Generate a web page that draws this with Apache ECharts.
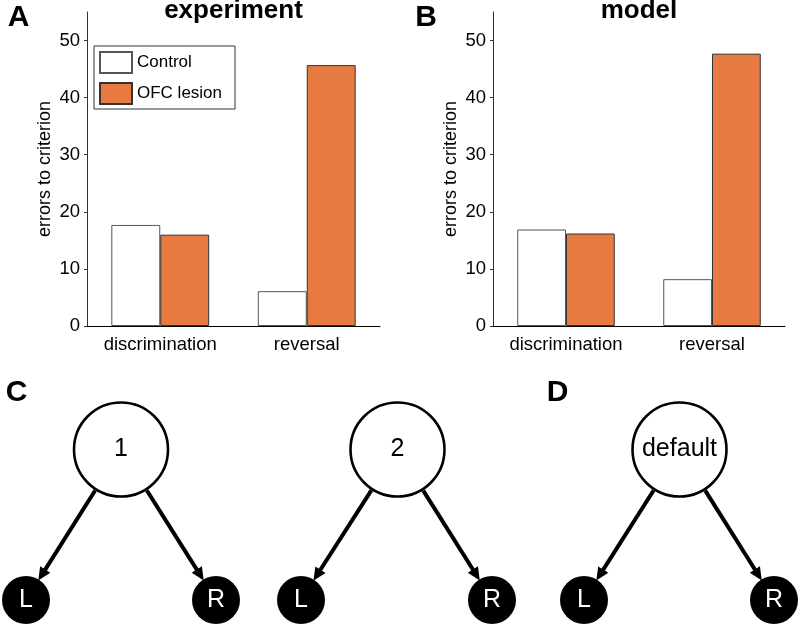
<!DOCTYPE html>
<html><head><meta charset="utf-8">
<script src="https://cdn.jsdelivr.net/npm/echarts@6/dist/echarts.min.js"></script>
<style>html,body{margin:0;padding:0;background:#fff}#c{width:800px;height:626px}</style>
</head><body><div id="c"></div>
<script>
// ---- bar chart data ----
const categories = ['discrimination', 'reversal'];
const seriesNames = ['Control', 'OFC lesion'];
const experimentControl = [17.7, 6.1];
const experimentLesion = [16.0, 45.7];
const modelControl = [16.9, 8.2];
const modelLesion = [16.2, 47.7];
const yTicks = [0, 10, 20, 30, 40, 50];
const panelTitles = ['experiment', 'model'];
const panelLetters = ['A', 'B', 'C', 'D'];
const yAxisName = 'errors to criterion';

// ---- diagram data (nodes and edges) ----
const nodeLabels = ['1', 'L', 'R', '2', 'L', 'R', 'default', 'L', 'R'];
const nodeKinds = ['state', 'action', 'action', 'state', 'action', 'action', 'state', 'action', 'action'];
const nodeX = [121, 26, 216, 397.5, 301, 492, 679.5, 584, 774];
const nodeLevel = [0, 1, 1, 0, 1, 1, 0, 1, 1];
const edgeFrom = [0, 0, 3, 3, 6, 6];
const edgeTo = [1, 2, 4, 5, 7, 8];

const FONT = "'Liberation Sans', Arial, Helvetica, sans-serif";
const ORANGE = '#E67A40';

const chart = echarts.init(document.getElementById('c'), null, { renderer: 'canvas' });

function barXAxis(gi) {
  return {
    gridIndex: gi, type: 'category', data: categories,
    axisLine: { lineStyle: { color: '#000', width: 1.2 } },
    axisTick: { alignWithLabel: true, length: 3, lineStyle: { color: '#000' } },
    axisLabel: { fontSize: 18.5, color: '#000', margin: 9, fontFamily: FONT, interval: 0, hideOverlap: false }
  };
}
function barYAxis(gi) {
  return {
    gridIndex: gi, type: 'value', min: 0, max: 55, interval: 10,
    splitLine: { show: false },
    axisLine: { show: true, lineStyle: { color: '#333', width: 1 } },
    axisTick: { show: true, length: 3, customValues: yTicks, lineStyle: { color: '#333' } },
    axisLabel: { fontSize: 18.5, color: '#000', margin: 7, fontFamily: FONT, customValues: yTicks,
      formatter: v => (v > 50 ? '' : String(v)) },
    name: yAxisName, nameLocation: 'middle', nameGap: 33,
    nameTextStyle: { fontSize: 18, color: '#000', fontFamily: FONT }
  };
}
function bars(gi, ctrl, lesion) {
  return [
    { type: 'bar', name: seriesNames[0], xAxisIndex: gi, yAxisIndex: gi, data: ctrl,
      barWidth: '33.4%', barGap: '0%',
      itemStyle: { color: '#fff', borderColor: '#555', borderWidth: 1 } },
    { type: 'bar', name: seriesNames[1], xAxisIndex: gi, yAxisIndex: gi, data: lesion,
      barWidth: '33.4%', barGap: '0%',
      itemStyle: { color: ORANGE, borderColor: '#333', borderWidth: 1 } }
  ];
}

const stateData = [], actionData = [];
nodeLabels.forEach((lab, i) => {
  const d = [nodeX[i], nodeLevel[i], lab];
  (nodeKinds[i] === 'state' ? stateData : actionData).push(d);
});
const edgeData = edgeFrom.map((f, k) => [nodeX[f], nodeLevel[f], nodeX[edgeTo[k]], nodeLevel[edgeTo[k]]]);

const option = {
  animation: false,
  backgroundColor: '#fff',
  textStyle: { fontFamily: FONT },
  grid: [
    { left: 87, right: 420, top: 12, bottom: 300 },
    { left: 493, right: 15, top: 12, bottom: 300 },
    { left: 0, width: 800, top: 449.5, height: 150.5 }
  ],
  xAxis: [barXAxis(0), barXAxis(1),
    { gridIndex: 2, type: 'value', min: 0, max: 800, show: false }],
  yAxis: [barYAxis(0), barYAxis(1),
    { gridIndex: 2, type: 'value', min: 0, max: 1, inverse: true, show: false }],
  legend: {
    data: seriesNames, orient: 'vertical', left: 94, top: 46,
    itemWidth: 32, itemHeight: 21, itemGap: 8, icon: 'rect',
    padding: [5, 13, 4, 5], borderColor: '#333', borderWidth: 1,
    textStyle: { fontSize: 17, color: '#000', fontFamily: FONT }
  },
  graphic: [
    { type: 'text', x: 18.5, y: 18, style: { text: panelLetters[0], font: "bold 30px " + FONT, fill: '#000', align: 'center', verticalAlign: 'middle' } },
    { type: 'text', x: 426, y: 18, style: { text: panelLetters[1], font: "bold 30px " + FONT, fill: '#000', align: 'center', verticalAlign: 'middle' } },
    { type: 'text', x: 16.5, y: 393, style: { text: panelLetters[2], font: "bold 30px " + FONT, fill: '#000', align: 'center', verticalAlign: 'middle' } },
    { type: 'text', x: 557.5, y: 393, style: { text: panelLetters[3], font: "bold 30px " + FONT, fill: '#000', align: 'center', verticalAlign: 'middle' } },
    { type: 'text', x: 233.5, y: 11, style: { text: panelTitles[0], font: "bold 26px " + FONT, fill: '#000', align: 'center', verticalAlign: 'middle' } },
    { type: 'text', x: 639, y: 11, style: { text: panelTitles[1], font: "bold 26px " + FONT, fill: '#000', align: 'center', verticalAlign: 'middle' } }
  ],
  series: [
    ...bars(0, experimentControl, experimentLesion),
    ...bars(1, modelControl, modelLesion),
    {
      type: 'custom', xAxisIndex: 2, yAxisIndex: 2, data: edgeData, clip: false,
      encode: { x: [0, 2], y: [1, 3] }, z: 1,
      renderItem: (params, api) => {
        const p1 = api.coord([api.value(0), api.value(1)]);
        const p2 = api.coord([api.value(2), api.value(3)]);
        const dx = p2[0] - p1[0], dy = p2[1] - p1[1];
        const len = Math.hypot(dx, dy);
        const ux = dx / len, uy = dy / len;
        const rS = 48.5, rT = 23, aL = 13, aW = 6;
        const sx = p1[0] + ux * rS, sy = p1[1] + uy * rS;
        const tx = p2[0] - ux * rT, ty = p2[1] - uy * rT;
        const bx = tx - ux * aL, by = ty - uy * aL;
        return {
          type: 'group', children: [
            { type: 'line', shape: { x1: sx, y1: sy, x2: bx + ux * 3, y2: by + uy * 3 }, style: { stroke: '#000', lineWidth: 4 } },
            { type: 'polygon', shape: { points: [[tx, ty], [bx - uy * aW, by + ux * aW], [bx + uy * aW, by - ux * aW]] }, style: { fill: '#000' } }
          ]
        };
      }
    },
    {
      type: 'scatter', xAxisIndex: 2, yAxisIndex: 2, data: stateData, symbol: 'circle', symbolSize: 94,
      itemStyle: { color: '#fff', borderColor: '#000', borderWidth: 2.6, opacity: 1 }, z: 3,
      label: { show: true, position: 'inside', formatter: p => p.value[2], fontSize: 25, color: '#000', fontFamily: FONT },
      emphasis: { disabled: true }
    },
    {
      type: 'scatter', xAxisIndex: 2, yAxisIndex: 2, data: actionData, symbol: 'circle', symbolSize: 48,
      itemStyle: { color: '#000', opacity: 1 }, z: 3,
      label: { show: true, position: 'inside', formatter: p => p.value[2], fontSize: 25, color: '#fff', fontFamily: FONT },
      emphasis: { disabled: true }
    }
  ]
};
chart.setOption(option);
</script>
</body></html>
